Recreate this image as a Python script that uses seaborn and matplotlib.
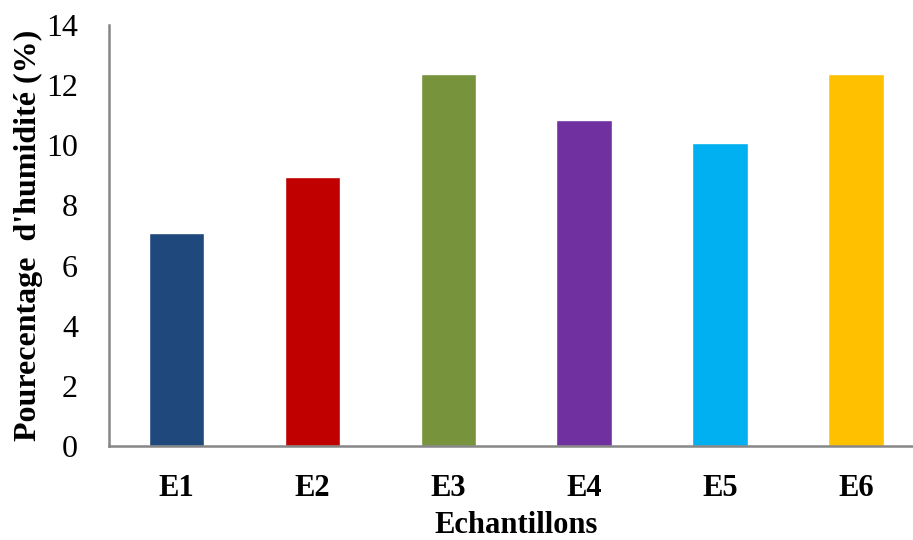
import matplotlib
matplotlib.use("Agg")
import matplotlib.pyplot as plt
from matplotlib.ticker import FixedLocator, NullFormatter
import seaborn as sns
import pandas as pd

# Moisture content per sample
echantillons = ["E1", "E2", "E3", "E4", "E5", "E6"]
humidite = [7.08, 8.95, 12.37, 10.84, 10.08, 12.37]
couleurs = ["#1F497D", "#C00000", "#77933C", "#7030A0", "#00B0F0", "#FFC000"]
yticks = [0, 2, 4, 6, 8, 10, 12, 14]

df = pd.DataFrame({"Echantillon": echantillons, "Humidite": humidite})

sns.set_theme(style="white")
plt.rcParams["font.family"] = ["Liberation Serif", "DejaVu Serif"]
plt.rcParams["text.color"] = "black"
plt.rcParams["axes.labelcolor"] = "black"

fig = plt.figure(figsize=(9.13, 5.40), dpi=100)
ax = fig.add_axes([0.119, 0.174, 0.893, 0.780])

sns.barplot(data=df, x="Echantillon", y="Humidite", hue="Echantillon",
            palette=couleurs, width=0.41, legend=False, saturation=1, ax=ax)

grey = "#868686"
ax.set_ylim(0, 14)
ax.set_xlim(-0.5, 5.5)
ax.set_yticks(yticks)
ax.set_yticklabels([str(v) for v in yticks], fontsize=23)
ax.set_xticks(range(len(echantillons)))
ax.set_xticklabels(echantillons, fontsize=22, fontweight="bold")
ax.xaxis.set_minor_locator(FixedLocator([i - 0.5 for i in range(len(echantillons) + 1)]))
ax.xaxis.set_minor_formatter(NullFormatter())

ax.tick_params(axis="x", which="major", length=0, pad=20, labelcolor="black")
ax.tick_params(axis="x", which="minor", length=8, width=1.5, color=grey, direction="out")
ax.tick_params(axis="y", which="major", length=8, width=1.5, color=grey,
               direction="out", pad=14, labelcolor="black")

for side in ["top", "right"]:
    ax.spines[side].set_visible(False)
for side in ["left", "bottom"]:
    ax.spines[side].set_color(grey)
    ax.spines[side].set_linewidth(1.8)

ax.set_xlabel("Echantillons", fontsize=22, fontweight="bold", labelpad=6)
ax.set_ylabel("Pourecentage  d'humidité (%)", fontsize=23, fontweight="bold", labelpad=2)

fig.savefig("out.png", dpi=100)
